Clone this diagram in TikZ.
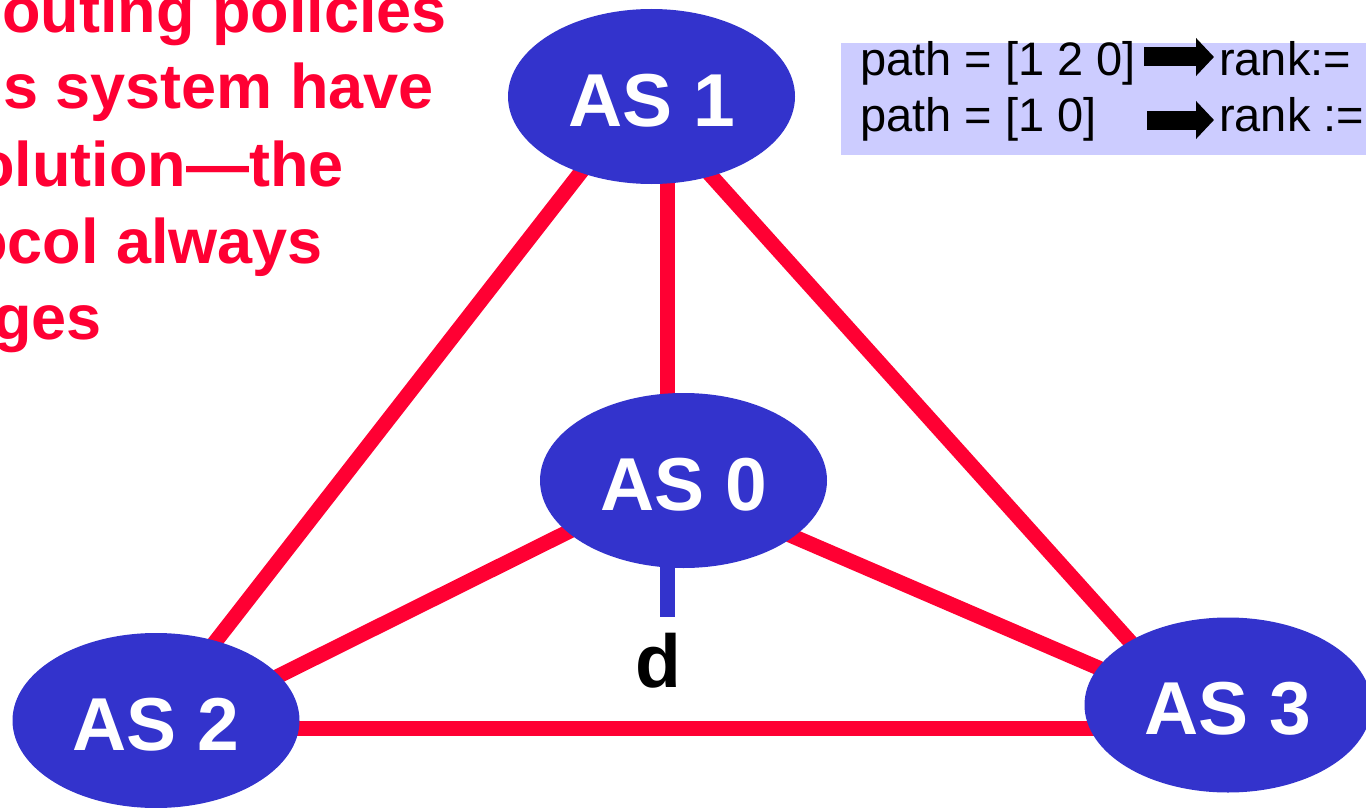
\documentclass[tikz,border=0pt]{standalone}
\usepackage{fontspec}
\setmainfont{Liberation Sans}
\usepackage{tikz}
\usetikzlibrary{shapes,backgrounds,arrows.meta}
\definecolor{asblue}{HTML}{3333CC}
\definecolor{linkred}{HTML}{FF0033}
\definecolor{rankfill}{HTML}{CCCCFF}
\tikzstyle{asnode}=[ellipse,fill=asblue,text=white,minimum width=287pt,minimum height=175pt,inner sep=0pt,text height=60pt,font=\fontsize{75}{80}\selectfont\bfseries]
\tikzstyle{link}=[draw=linkred,line width=15pt,shorten <=-12pt,shorten >=-12pt]
\tikzstyle{claim}=[text=linkred,anchor=base east,inner sep=0pt,font=\fontsize{63}{76}\selectfont\bfseries]
\tikzstyle{ranktext}=[anchor=base west,inner sep=0pt,font=\fontsize{47}{54}\selectfont]
\tikzstyle{fatarrow}=[line width=19pt,-{Triangle[length=18pt,width=37pt]}]

\begin{document}
\begin{tikzpicture}[x=1pt,y=-1pt]
\useasboundingbox (0,0) rectangle (1366,808);
\clip (0,0) rectangle (1366,808);
% cut-off claim on the left
\node[claim] (claim1) at (447,33) {outing policies};
\node[claim] (claim2) at (434,109) {s system have};
\node[claim] (claim3) at (344,186) {olution—the};
\node[claim] (claim4) at (323,263) {ocol always};
\node[claim] (claim5) at (102,339) {ges};
% ranking box
\node[fill=rankfill,minimum width=540pt,minimum height=112pt,anchor=north west,inner sep=0pt] (rankbox) at (841,43) {};
\node[ranktext] (path1) at (860,76) {path = [1 2 0]};
\node[ranktext] (rank1) at (1219,76) {rank:=};
\node[ranktext] (path2) at (860,131) {path = [1 0]};
\node[ranktext] (rank2) at (1219,131) {rank :=};
\draw[fatarrow] ([xshift=8pt,yshift=19pt]path1.base east) -- ([xshift=-5pt,yshift=19pt]rank1.base west);
\draw[fatarrow] ([xshift=-72pt,yshift=11pt]rank2.base west) -- ([xshift=-5pt,yshift=11pt]rank2.base west);
% autonomous systems
\node[asnode] (as1) at (651.5,96.5) {AS 1};
\node[asnode] (as0) at (683.5,480.5) {AS 0};
\node[asnode] (as2) at (156,720.5) {AS 2};
\node[asnode] (as3) at (1228,705) {AS 3};
\coordinate (dend) at (667.5,617);
\node[anchor=base,inner sep=0pt,font=\fontsize{75}{80}\selectfont\bfseries] (dest) at (658,687) {d};
\begin{scope}[on background layer]
    \draw[link] (as1.south -| dend) -- (as0.north -| dend);
    \draw[link] (as1.227) -- (as2.53);
    \draw[link] (as1.-53) -- (as3.147);
    \draw[link] (as0.204) -- (as2.20);
    \draw[link] (as0.-27) -- (as3.164);
    \draw[link] (as2.-3) -- (as2.-3 -| as3.west);
    \draw[asblue,line width=15pt,shorten <=-10pt] (as0.south -| dend) -- (dend);
\end{scope}
\end{tikzpicture}
\end{document}
